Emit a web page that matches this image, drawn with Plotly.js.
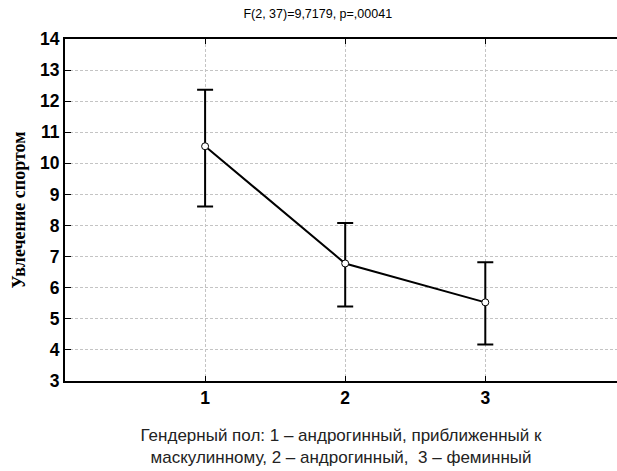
<!DOCTYPE html>
<html>
<head>
<meta charset="utf-8">
<script src="https://cdn.plot.ly/plotly-3.0.1.min.js"></script>
<style>html,body{margin:0;padding:0;background:#fff;}#chart{width:617px;height:471px;}</style>
</head>
<body>
<div id="chart"></div>
<script>
const groups = [1, 2, 3];
const means = [10.55, 6.78, 5.53];
const upper = [12.37, 8.08, 6.82];
const lower = [8.61, 5.40, 4.17];
const yTicks = [3, 4, 5, 6, 7, 8, 9, 10, 11, 12, 13, 14];

const errPlus = means.map((m, i) => upper[i] - m);
const errMinus = means.map((m, i) => m - lower[i]);

const trace = {
  x: groups,
  y: means,
  type: 'scatter',
  mode: 'lines+markers',
  line: {color: '#000', width: 2},
  marker: {symbol: 'circle', size: 7, color: '#fff', line: {color: '#000', width: 1}},
  error_y: {type: 'data', symmetric: false, array: errPlus, arrayminus: errMinus,
            color: '#000', thickness: 2, width: 8},
  showlegend: false
};

const layout = {
  width: 617, height: 471,
  margin: {l: 65, r: 0, t: 39, b: 90},
  paper_bgcolor: '#fff', plot_bgcolor: '#fff',
  title: {text: 'F(2, 37)=9,7179, p=,00041', x: 0.515, xanchor: 'center', y: 0.972, yanchor: 'middle',
          font: {family: 'Liberation Sans, Arial, sans-serif', size: 12.5, color: '#000'}},
  xaxis: {
    range: [0, 3.94], tickvals: groups, ticktext: groups.map(String),
    showline: true, linecolor: '#000', linewidth: 2, mirror: 'ticks',
    ticks: 'inside', ticklen: 5, tickcolor: '#000', tickwidth: 1,
    showgrid: true, gridcolor: '#c4c4c4', griddash: '3px,2px', gridwidth: 1,
    zeroline: false,
    tickfont: {family: 'Liberation Sans, Arial, sans-serif', size: 17.5, color: '#000', weight: 'bold'},
    title: {text: 'Гендерный пол: 1 – андрогинный, приближенный к<br>маскулинному, 2 – андрогинный,  3 – феминный',
            standoff: 22,
            font: {family: 'Liberation Sans, Arial, sans-serif', size: 17, color: '#222'}}
  },
  yaxis: {
    range: [3, 14], tickvals: yTicks,
    showline: true, linecolor: '#000', linewidth: 2, mirror: false,
    ticks: 'inside', ticklen: 6, tickcolor: '#000', tickwidth: 1,
    showgrid: true, gridcolor: '#c4c4c4', griddash: '3px,2px', gridwidth: 1,
    zeroline: false,
    tickfont: {family: 'Liberation Sans, Arial, sans-serif', size: 17.5, color: '#000', weight: 'bold'},
    title: {text: 'Увлечение спортом', standoff: 10,
            font: {family: 'Liberation Serif, Times New Roman, serif', size: 18, color: '#000', weight: 'bold'}}
  }
};

Plotly.newPlot('chart', [trace], layout, {displayModeBar: false, staticPlot: true});
</script>
</body>
</html>
